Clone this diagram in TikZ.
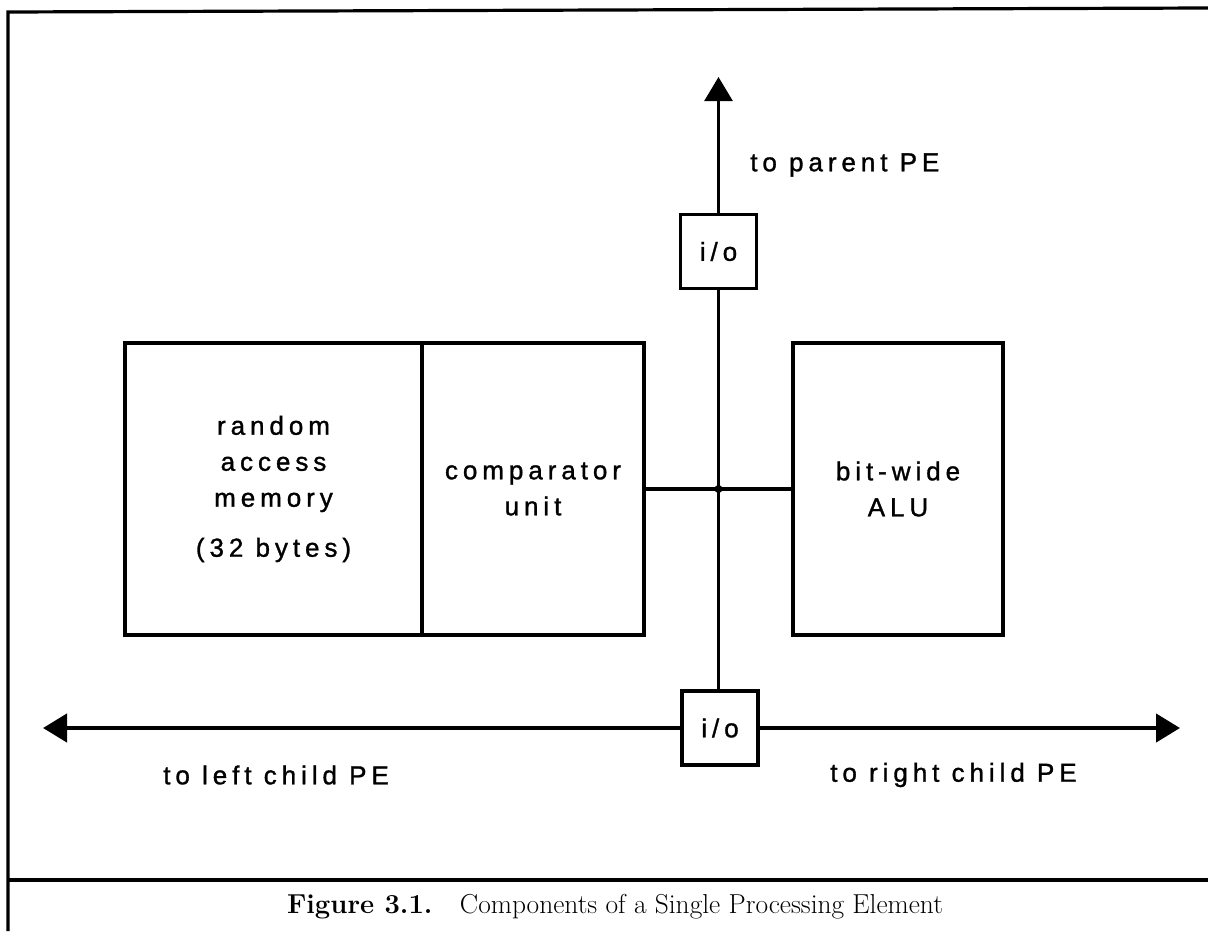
\documentclass[tikz,border=0pt]{standalone}
\usepackage{fontspec}
\usetikzlibrary{arrows.meta,positioning}
\newfontfamily\pefont[LetterSpace=19,FakeBold=1.2]{Liberation Sans}
\tikzset{
  peblock/.style={draw,line width=0.9mm,inner sep=0pt,align=center,
    font=\pefont\fontsize{18.5}{25.6}\selectfont},
  iobox/.style={draw,line width=0.9mm,minimum width=19mm,minimum height=18.5mm,
    font=\pefont\fontsize{18.5}{20}\selectfont},
  pelabel/.style={font=\pefont\fontsize{18.5}{20}\selectfont,inner sep=0pt},
  busline/.style={line width=0.7mm},
  childbus/.style={line width=1.1mm,-{Triangle[length=6mm,width=7mm]}},
  every picture/.style={line join=miter}
}

\begin{document}
\begin{tikzpicture}[x=0.25mm,y=-0.25mm]
  \useasboundingbox (0,0) rectangle (1208,931);
  % frame and caption rule
  \draw[line width=0.8mm] (8,931)--(8,12)--(1208,8);
  \draw[line width=0.9mm] (8,880)--(1208,880);
  \node (cap) at (615,907) {\fontsize{19.5}{22}\selectfont\textbf{Figure 3.1.}\quad Components of a Single Processing Element};

  % the units
  \node[peblock,minimum width=74.25mm,minimum height=73mm] (ram) at (273.5,489)
    {random\\access\\memory\\[3.5mm](32 bytes)};
  \node[peblock,minimum width=55.5mm,minimum height=73mm] (cmp) at (533,489)
    {comparator\\unit};
  \node[peblock,minimum width=52.5mm,minimum height=73mm] (alu) at (898,489)
    {bit-wide\\ALU};

  % i/o ports
  \node[iobox] (ioup) at (718.5,251.5) {i/o};
  \node[iobox] (iodown) at (720,728) {i/o};
  \coordinate (parent) at (718.5,77);
  \coordinate (lchild) at (43,728);
  \coordinate (rchild) at (1180,728);
  \coordinate (hub) at (718.5,489);

  % buses
  \draw[busline,-{Triangle[length=6mm,width=7mm]}] (ioup) -- (parent);
  \draw[busline] (ioup.south) -- (ioup.south |- iodown.north);
  \draw[line width=0.9mm] (cmp.east) -- (alu.west);
  \fill (hub) circle (4);
  \draw[childbus] (iodown) -- (lchild);
  \draw[childbus] (iodown) -- (rchild);

  % labels
  \node[pelabel,anchor=west] (uplbl) at (750,165) {to parent PE};
  \node[pelabel,anchor=west] (leftlbl) at (163,775) {to left child PE};
  \node[pelabel,anchor=west] (rightlbl) at (830,775) {to right child PE};
\end{tikzpicture}
\end{document}
